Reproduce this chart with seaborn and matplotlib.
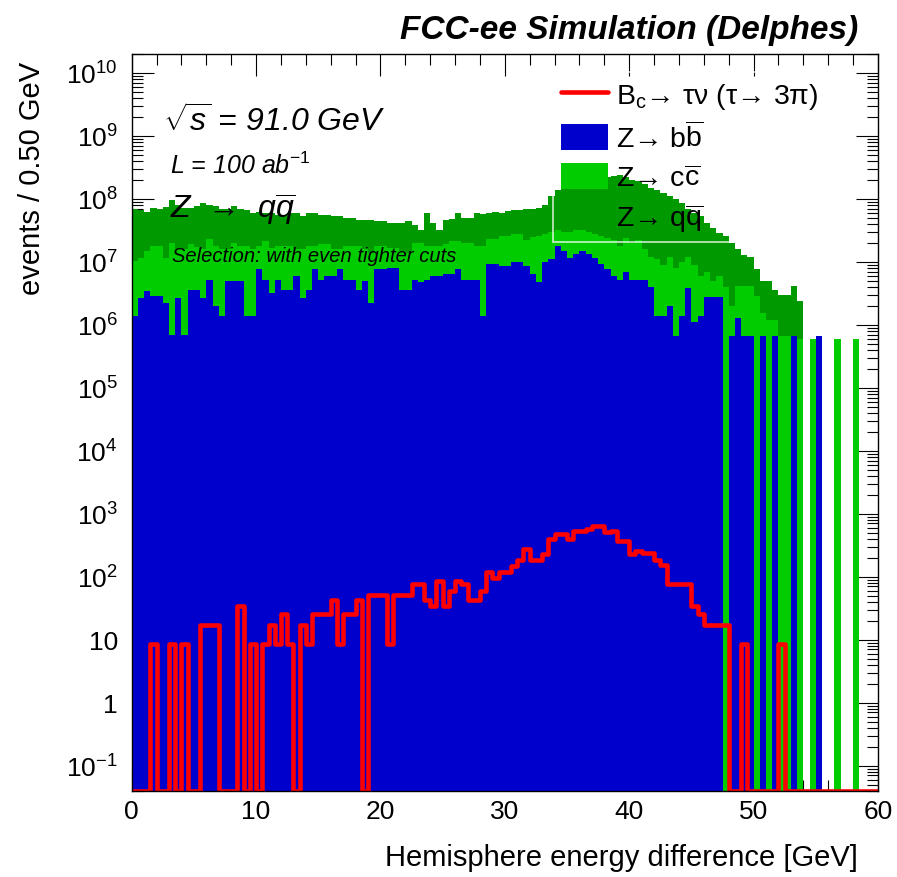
import matplotlib
matplotlib.use('Agg')

import matplotlib.pyplot as plt
import numpy as np
import pandas as pd
import seaborn as sns
from matplotlib.lines import Line2D
from matplotlib.patches import Patch
from matplotlib.ticker import FixedLocator, FuncFormatter, LogLocator, MultipleLocator, NullFormatter

# 120 bins of 0.5 GeV from 0 to 60 GeV
bin_edges = np.linspace(0, 60, 121)
bin_centers = bin_edges[:-1] + 0.25

# background yields per bin, in units of 1e6 events
zbb = [1.4, 2.7, 3.5, 2.9, 2.9, 2.2, 0.7, 2.7, 0.7, 3.6,
       3.6, 2.7, 5.2, 2.0, 1.4, 5.0, 5.0, 5.0, 1.4, 1.4,
       7.6, 5.2, 3.2, 5.2, 3.6, 3.6, 5.9, 2.7, 3.6, 7.6,
       5.2, 5.9, 5.9, 7.6, 5.2, 5.2, 3.6, 5.0, 2.2, 7.6,
       7.6, 8.0, 8.0, 3.6, 3.6, 5.2, 4.7, 5.2, 5.9, 5.9,
       6.3, 6.3, 7.6, 5.2, 5.2, 5.2, 1.4, 9.1, 9.1, 8.5,
       8.5, 9.8, 9.8, 8.5, 6.3, 4.7, 9.8, 11.0, 17.8, 14.8,
       11.7, 13.2, 14.8, 13.2, 11.7, 9.1, 7.6, 5.9, 5.2, 7.0,
       5.2, 5.2, 5.2, 4.0, 1.4, 1.4, 2.0, 0.66, 1.4, 3.8,
       1.1, 1.4, 2.8, 2.8, 2.8, 0, 0.66, 1.3, 0.66, 0.66,
       0, 0.66, 0, 0.66, 0, 0, 0.66, 0, 0, 0,
       0.66, 0, 0, 0, 0, 0, 0, 0, 0, 0]
zcc = [8.8, 8.8, 11.3, 14.9, 14.9, 9.3, 19.3, 13.1, 15.1, 15.4,
       13.4, 13.1, 17.7, 15.8, 14.4, 10.8, 15.0, 12.8, 16.4, 14.4,
       10.2, 16.2, 13.4, 12.6, 14.2, 14.2, 9.9, 13.1, 14.2, 10.2,
       13.8, 13.1, 9.9, 8.2, 12.6, 12.6, 14.2, 10.8, 11.6, 10.2,
       10.2, 8.6, 8.6, 11.2, 10.2, 14.8, 15.3, 12.6, 11.9, 11.9,
       12.7, 15.1, 13.8, 14.8, 14.8, 12.6, 16.4, 13.8, 13.8, 17.2,
       17.2, 17.7, 17.7, 13.5, 18.7, 21.3, 18.2, 19.0, 14.2, 15.2,
       18.3, 18.8, 18.2, 16.8, 16.3, 16.9, 16.4, 16.1, 12.8, 17.0,
       14.8, 16.8, 10.8, 8.0, 9.6, 7.6, 10.0, 7.3, 8.6, 8.2,
       7.9, 4.6, 4.2, 2.2, 3.2, 4.0, 1.3, 2.9, 3.5, 3.5,
       2.9, 0.9, 1.2, 0.54, 0.66, 0.66, 0, 0.59, 0, 0.59,
       0, 0, 0, 0.59, 0, 0, 0.59, 0, 0, 0]
zqq = [58, 56, 48, 54, 52, 64, 76, 65, 56, 53,
       59, 71, 58, 58, 52, 54, 56, 50, 48, 44,
       45, 39, 43, 38, 38, 42, 44, 38, 42, 42,
       37, 37, 38, 38, 32, 32, 29, 31, 33, 27,
       27, 25, 25, 27, 31, 19, 12, 42, 24, 14,
       28, 26, 39, 30, 30, 42, 40, 37, 39, 34,
       38, 38, 38, 46, 45, 46, 52, 80, 108, 125,
       135, 143, 152, 165, 177, 189, 201, 213, 222, 196,
       180, 170, 154, 138, 129, 116, 98, 90, 77, 56,
       51, 48, 35, 30, 23, 22, 18, 12, 8.8, 7.8,
       4.7, 3.4, 3.7, 2.4, 2.3, 2.3, 3.5, 1.8, 0, 0,
       0, 0, 0, 0, 0, 0, 0, 0, 0, 0]

# signal yield per bin (events)
bc_taunu = [0, 0, 0, 8.6, 0, 0, 8.6, 0, 8.6, 0,
            0, 17.2, 17.2, 17.2, 0, 0, 0, 34.4, 0, 8.6,
            0, 8.6, 17.2, 8.6, 25.8, 8.6, 0, 17.2, 8.6, 25.8,
            25.8, 25.8, 43, 8.6, 25.8, 25.8, 43, 0, 51.6, 51.6,
            51.6, 8.6, 51.6, 51.6, 51.6, 77.4, 77.4, 43, 34.4, 86,
            34.4, 60.2, 86, 77.4, 43, 43, 60.2, 120, 94.6, 120,
            120, 146, 181, 275, 181, 181, 232, 396, 473, 473,
            396, 533, 533, 568, 645, 645, 507, 533, 370, 370,
            232, 258, 241, 241, 181, 155, 77.4, 77.4, 77.4, 77.4,
            34.4, 25.8, 17.2, 17.2, 17.2, 17.2, 0, 0, 8.6, 0,
            0, 0, 0, 0, 8.6, 0, 0, 0, 0, 0,
            0, 0, 0, 0, 0, 0, 0, 0, 0, 0]

y_floor = 0.04
y_top = 2e10

palette = {'qq': '#009900', 'cc': '#00cc00', 'bb': '#0000cc'}
sig_color = '#ff0000'

sns.set_theme(style='ticks')
plt.rcParams['font.family'] = ['Liberation Sans', 'DejaVu Sans']
plt.rcParams['mathtext.fontset'] = 'custom'
plt.rcParams['mathtext.rm'] = 'Liberation Sans'
plt.rcParams['mathtext.it'] = 'Liberation Sans:italic'
plt.rcParams['mathtext.bf'] = 'Liberation Sans:bold'
plt.rcParams['mathtext.default'] = 'regular'
plt.rcParams['text.color'] = 'black'
plt.rcParams['axes.labelcolor'] = 'black'

bkg = pd.DataFrame({
    'x': np.tile(bin_centers, 3),
    'events': np.concatenate([zqq, zcc, zbb]) * 1e6,
    'process': np.repeat(['qq', 'cc', 'bb'], len(bin_centers)),
})

fig = plt.figure(figsize=(8.97, 8.78), dpi=100)
ax = fig.add_axes([0.1468, 0.0983, 0.8320, 0.8391])

# stacked backgrounds (bb at the bottom, then cc, then qq)
sns.histplot(data=bkg, x='x', weights='events', hue='process',
             hue_order=['qq', 'cc', 'bb'], multiple='stack',
             bins=bin_edges.tolist(), element='step', fill=True,
             palette=palette, alpha=1, linewidth=0, legend=False, ax=ax)

# signal as a thick line; empty bins sit on the frame like in ROOT
sns.histplot(x=bin_centers, weights=np.maximum(bc_taunu, y_floor),
             bins=bin_edges.tolist(), element='step', fill=False,
             color=sig_color, linewidth=3.3, ax=ax)

ax.set_yscale('log')
ax.set_xlim(0, 60)
ax.set_ylim(y_floor, y_top)
ax.set_xlabel('')
ax.set_ylabel('')
ax.set_facecolor('white')

ax.xaxis.set_major_locator(MultipleLocator(10))
ax.xaxis.set_minor_locator(MultipleLocator(2))
ax.yaxis.set_major_locator(FixedLocator(10.0 ** np.arange(-1, 11)))
ax.yaxis.set_minor_locator(LogLocator(base=10, subs=np.arange(2, 10), numticks=300))
ax.yaxis.set_minor_formatter(NullFormatter())


def log_label(v, pos):
    e = int(round(np.log10(v)))
    if e == 0:
        return '1'
    if e == 1:
        return '10'
    return r'$10^{%d}$' % e


ax.yaxis.set_major_formatter(FuncFormatter(log_label))
ax.tick_params(axis='both', which='both', direction='in', top=True, right=True,
               colors='black', width=0.8, labelsize=19)
ax.tick_params(axis='both', which='major', length=16)
ax.tick_params(axis='both', which='minor', length=8)
ax.tick_params(axis='y', pad=10)
ax.tick_params(axis='x', pad=6)
for s in ax.spines.values():
    s.set_color('black')
    s.set_linewidth(1.0)

# legend
handles = [Line2D([], [], color=sig_color, lw=3.3),
           Patch(facecolor=palette['bb'], edgecolor='none'),
           Patch(facecolor=palette['cc'], edgecolor='none'),
           Patch(facecolor=palette['qq'], edgecolor='none')]
labels = [r'B$_{c}$→ τν (τ→ 3π)', r'Z→ b$\overline{b}$',
          r'Z→ c$\overline{c}$', r'Z→ q$\overline{q}$']
leg = ax.legend(handles, labels, loc='upper left', bbox_to_anchor=(0.5645, 0.975),
                fontsize=20.5, handlelength=1.65, handleheight=1.05,
                handletextpad=0.3, labelspacing=0.36, borderpad=0.28,
                borderaxespad=0, fancybox=False, frameon=True)
leg.get_frame().set_edgecolor('white')
leg.get_frame().set_facecolor('none')
leg.get_frame().set_linewidth(1.2)
for t in leg.get_texts():
    t.set_color('black')

# labels and annotations
fig.text(858 / 897, 1 - 30 / 878, 'FCC-ee Simulation (Delphes)', ha='right',
         va='center', weight='bold', style='italic', size=24, color='black')
fig.text(858 / 897, 1 - 858 / 878, 'Hemisphere energy difference [GeV]',
         ha='right', va='center', size=21, color='black')
fig.text(32 / 897, 1 - 62 / 878, 'events / 0.50 GeV', rotation=90,
         ha='center', va='top', size=21, color='black')

fig.text(163 / 897, 1 - 122 / 878, r'$\sqrt{\mathit{s}}$ = 91.0 GeV',
         ha='left', va='center', style='italic', size=23, color='black')
fig.text(170 / 897, 1 - 166 / 878, r'L = 100 ab$^{\mathit{-1}}$',
         ha='left', va='center', style='italic', size=18, color='black')
fig.text(170 / 897, 1 - 210 / 878, r'$\mathit{Z}$  →  $\mathit{q}\overline{\mathit{q}}$',
         ha='left', va='center', style='italic', size=23, color='black')
fig.text(172 / 897, 1 - 257 / 878, 'Selection: with even tighter cuts',
         ha='left', va='center', style='italic', size=14.5, color='black')

fig.savefig('out.png', dpi=100)
